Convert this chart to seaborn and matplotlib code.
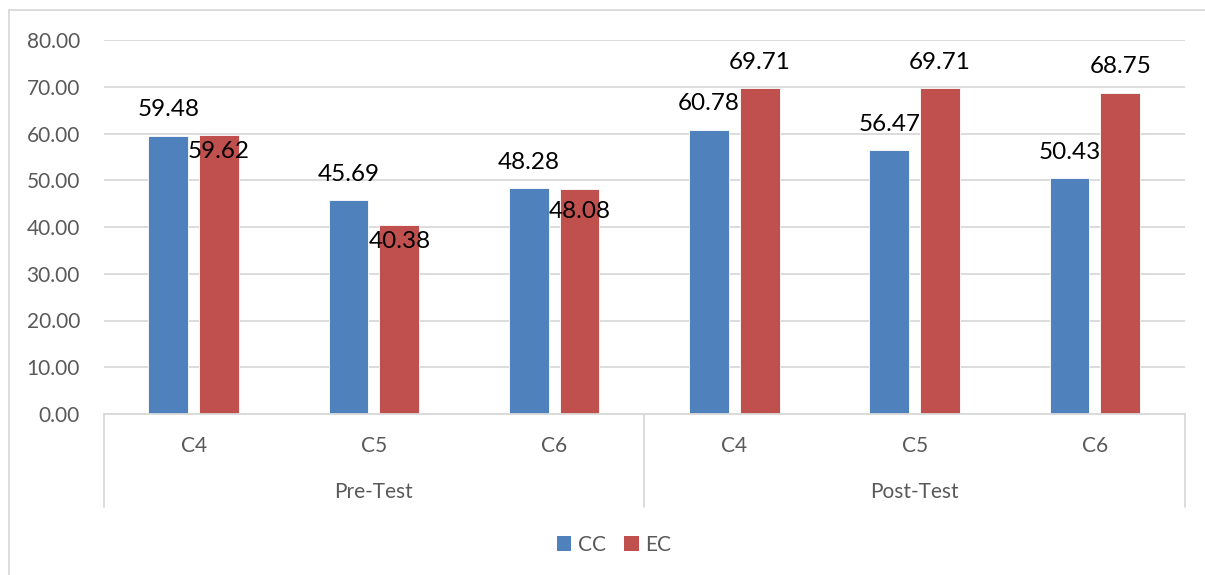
import matplotlib
matplotlib.use("Agg")
import matplotlib.pyplot as plt
from matplotlib.lines import Line2D
from matplotlib.patches import Patch
import seaborn as sns
import pandas as pd

# Scores by test phase and course, for the control (CC) and experimental (EC) classes
tests = ["Pre-Test", "Pre-Test", "Pre-Test", "Post-Test", "Post-Test", "Post-Test"]
courses = ["C4", "C5", "C6", "C4", "C5", "C6"]
cc_scores = [59.48, 45.69, 48.28, 60.78, 56.47, 50.43]
ec_scores = [59.62, 40.38, 48.08, 69.71, 69.71, 68.75]
groups = ["CC", "EC"]

# Label placement relative to each bar top (pixels, positive = above)
cc_label_shift = [26, 26, 26, 26, 26, 26]
ec_label_shift = [-16, -16, -22, 26, 26, 26]

keys = [f"{t}|{c}" for t, c in zip(tests, courses)]
df = pd.DataFrame({
    "key": keys * 2,
    "group": ["CC"] * len(keys) + ["EC"] * len(keys),
    "value": cc_scores + ec_scores,
})

sns.set_theme(style="white")
plt.rcParams["font.family"] = ["Lato", "DejaVu Sans"]

W, H, DPI = 1205, 575, 100
AX_L, AX_R, AX_T, AX_B = 103.5, 1185, 40, 414
AX_H = AX_B - AX_T
fig = plt.figure(figsize=(W / DPI, H / DPI), dpi=DPI)
ax = fig.add_axes([AX_L / W, 1 - AX_B / H, (AX_R - AX_L) / W, AX_H / H])

palette = {"CC": "#4F81BD", "EC": "#C0504D"}
sns.barplot(data=df, x="key", y="value", hue="group", order=keys, hue_order=groups,
            palette=palette, width=0.565, gap=0.22, saturation=1,
            edgecolor="white", linewidth=0.6, ax=ax, legend=False)

grid_c = "#D9D9D9"
text_c = "#595959"
gray_fs = 15

ax.set_xlim(-0.5, len(keys) - 0.5)
ax.set_ylim(0, 80)
ax.set_yticks(range(0, 81, 10))
ax.set_yticklabels([f"{v:.2f}" for v in range(0, 81, 10)], color=text_c, fontsize=gray_fs)
ax.yaxis.grid(True, color=grid_c, linewidth=1.3)
ax.set_axisbelow(True)
ax.tick_params(axis="y", length=0, pad=17)
ax.tick_params(axis="x", length=0, labelbottom=False)
ax.set_xlabel("")
ax.set_ylabel("")
for side in ["left", "right", "top"]:
    ax.spines[side].set_visible(False)
ax.spines["bottom"].set_color(grid_c)
ax.spines["bottom"].set_linewidth(1.3)

# Value labels
px2pt = 72 / DPI
for cont, vals, shifts in zip(ax.containers, [cc_scores, ec_scores], [cc_label_shift, ec_label_shift]):
    for bar, v, s in zip(cont.patches, vals, shifts):
        ax.annotate(f"{v:.2f}", (bar.get_x() + bar.get_width() / 2, bar.get_height()),
                    xytext=(0, s * px2pt), textcoords="offset points",
                    ha="center", va="center", fontsize=17.5, color="black")

# Two-level category axis
xt = ax.get_xaxis_transform()
for i, c in enumerate(courses):
    ax.text(i, -32 / AX_H, c, transform=xt, ha="center", va="center",
            fontsize=gray_fs, color=text_c)
phase_names = ["Pre-Test", "Post-Test"]
for j, name in enumerate(phase_names):
    ax.text(3 * j + 1, -78 / AX_H, name, transform=xt, ha="center", va="center",
            fontsize=gray_fs, color=text_c)
for xs in [-0.5, 2.5, 5.5]:
    ax.add_line(Line2D([xs, xs], [0, -93 / AX_H], transform=xt, color=grid_c,
                       linewidth=1.3, clip_on=False))

# Legend
handles = [Patch(facecolor=palette[g], edgecolor="none") for g in groups]
fig.legend(handles, groups, loc="center", bbox_to_anchor=(614 / W, 1 - 545 / H),
           ncol=2, frameon=False, fontsize=gray_fs, labelcolor=text_c,
           handlelength=0.7, handleheight=0.7, handletextpad=0.3, columnspacing=0.9)

# Chart area border
fig.add_artist(Line2D([9 / W, 9 / W], [0, 1 - 10 / H], transform=fig.transFigure,
                      color=grid_c, linewidth=1.3))
fig.add_artist(Line2D([9 / W, 1], [1 - 10 / H, 1 - 10 / H], transform=fig.transFigure,
                      color=grid_c, linewidth=1.3))

fig.savefig("out.png", dpi=DPI)
